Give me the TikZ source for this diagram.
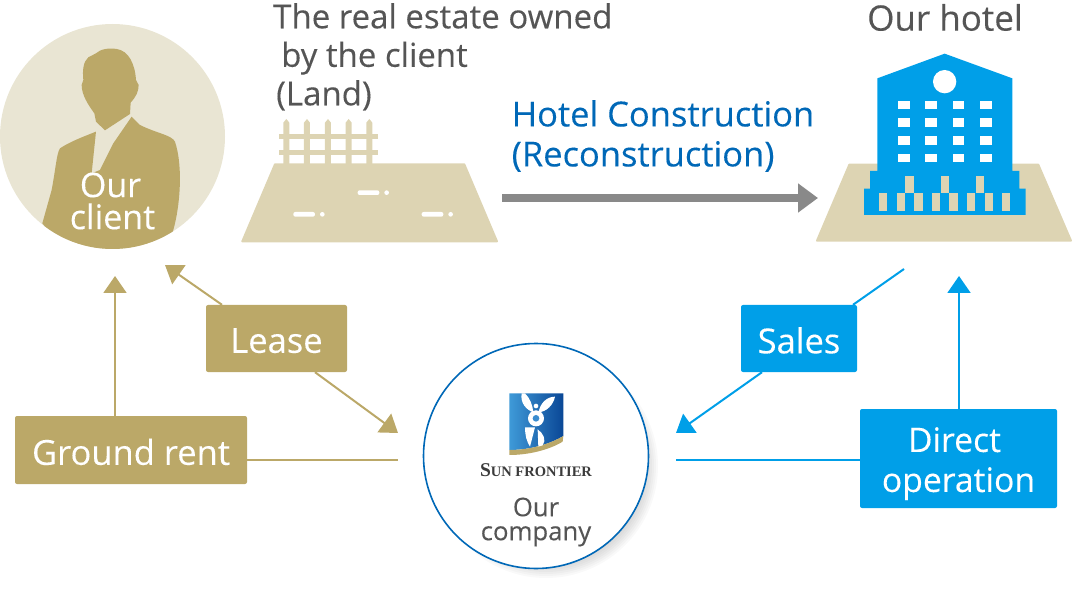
\documentclass[tikz,border=0pt]{standalone}
\usepackage{fontspec}
\setmainfont[FakeBold=0.2]{Open Sans}
\newfontfamily\logofont{Liberation Serif}
\usetikzlibrary{arrows.meta,calc}
\definecolor{goldc}{HTML}{BBA868}
\definecolor{palec}{HTML}{E9E5D3}
\definecolor{landc}{HTML}{DDD4B3}
\definecolor{bluec}{HTML}{009FE8}
\definecolor{navyc}{HTML}{0068B7}
\definecolor{inkc}{HTML}{555555}
\definecolor{arrowc}{HTML}{898989}
\definecolor{shieldl}{HTML}{3F9AD8}
\definecolor{shieldm}{HTML}{3A8CCF}
\definecolor{shieldr}{HTML}{0A4796}
\newcommand{\sz}[2]{\fontsize{#1}{#2}\selectfont}
\tikzset{
  goldbox/.style={fill=goldc,text=white,rounded corners=2pt,inner sep=0pt,align=center,font=\sz{34.5}{40}},
  bluebox/.style={fill=bluec,text=white,rounded corners=2pt,inner sep=0pt,align=center,font=\sz{34.5}{40}},
  goldline/.style={draw=goldc,line width=2pt},
  blueline/.style={draw=bluec,line width=2pt},
  tipped/.style={-{Triangle[length=17pt,width=23pt]}},
  land/.style={fill=landc,draw=landc,line width=2pt,line join=round},
  label/.style={inner sep=0pt,text=inkc,font=\sz{33}{38.5}},
}
\begin{document}
\begin{tikzpicture}[x=1pt,y=-1pt]
\useasboundingbox (0,0) rectangle (1072,596);
% client disc and figure
\fill[palec] (112.5,136.5) circle[radius=112.5];
\begin{scope}
  \clip (112.5,136.5) circle[radius=112.5];
  \begin{scope}[shift={(0,20)},x=0.3333pt,y=-0.3333pt]
    \fill[goldc] (288,100) .. controls (300,88) and (325,83) .. (350,87)
      .. controls (385,92) and (405,130) .. (408,180) -- (416,195) .. controls (416,215) and (408,230) .. (392,248)
      -- (390,282) -- (315,331) -- (288,305) -- (283,280) .. controls (265,255) and (245,225) .. (245,195)
      -- (250,180) .. controls (247,150) and (250,125) .. (265,112) -- cycle;
    \fill[goldc] (288,335) .. controls (250,350) and (210,365) .. (180,385) .. controls (170,400) and (168,440) .. (155,510)
      -- (127,610) -- (200,700) -- (500,700) -- (520,630) .. controls (540,560) and (550,440) .. (525,365)
      .. controls (515,345) and (470,340) .. (420,315) -- (395,290) -- (340,370) -- (300,450) -- (275,460) -- cycle;
  \end{scope}
\end{scope}
\node[text=white,inner sep=0pt,align=center,font=\sz{34}{32}] (clientlabel) at (112.5,201) {Our\hspace*{4pt}\\client};
% real estate
\begin{scope}[shift={(235,110)},x=0.3333pt,y=-0.3333pt]
  \foreach \px in {154,216,279,341,403}
    \fill[landc] (\px-9,165) -- (\px-9,38) -- (\px,27) -- (\px+9,38) -- (\px+9,165) -- cycle;
  \fill[landc] (132,72) rectangle (428,88);
  \fill[landc] (132,120) rectangle (428,135);
  \filldraw[land] (120,163) -- (688,163) -- (786,394) -- (22,394) -- cycle;
  \foreach \bx/\by in {368/248,175/313,560/313}{
    \fill[white,rounded corners=2pt] (\bx,\by-7) rectangle (\bx+65,\by+7);
    \fill[white] (\bx+87,\by) circle[radius=7];
  }
\end{scope}
\node[label,anchor=north west,align=left] (estate) at (273,3) {The real estate owned\\\hspace*{8pt}by the client\\\hspace*{3pt}(Land)};
% construction
\node[inner sep=0pt,anchor=north west,align=left,text=navyc,font=\sz{34.5}{40}] (construct) at (511.5,100) {Hotel Construction\\(Reconstruction)};
\coordinate (buildfrom) at (502,198);
\coordinate (buildto) at (818,198);
\draw[draw=arrowc,line width=8pt,-{Triangle[length=20pt,width=28pt]}] (buildfrom) -- (buildto);
% hotel
\node[inner sep=0pt,text=inkc,font=\sz{35}{38}] (hotellabel) at (945,17.5) {Our hotel};
\begin{scope}[shift={(810,40)},x=0.3333pt,y=-0.3333pt]
  \filldraw[land] (118,374) -- (685,374) -- (783,602) -- (21,602) -- cycle;
  \fill[bluec] (202,115) -- (404,41) -- (607,115) -- (607,393) -- (628,393) -- (628,446) -- (647,446) -- (647,525)
    -- (162,525) -- (162,446) -- (180,446) -- (180,393) -- (202,393) -- cycle;
  \fill[white] (404,125) circle[radius=35];
  \foreach \wx in {264,346,428,510}
    \foreach \wy in {183,235,289,341}
      \fill[white] (\wx,\wy) rectangle (\wx+35,\wy+25);
  \foreach \wx in {207,260,313,366,418,471,524,576}
    \fill[landc] (\wx,460) rectangle (\wx+25,512);
  \foreach \wx in {286,392,498}
    \fill[landc] (\wx,407) rectangle (\wx+25,460);
\end{scope}
% company shadow
\foreach \r in {112,110,108,106,104,102,100,98}
  \fill[black,opacity=0.022] (546,466) circle[radius=\r];
% connectors' boxes
\node[goldbox,minimum width=232pt,minimum height=68pt] (ground) at (131,450) {\rule{0pt}{30pt}Ground rent};
\node[goldbox,minimum width=141pt,minimum height=67pt] (lease) at (276.5,338.5) {\rule{0pt}{29pt}Lease};
\node[bluebox,minimum width=116pt,minimum height=67pt] (sales) at (799,338.5) {\rule{0pt}{30pt}Sales};
\node[bluebox,minimum width=197pt,minimum height=99pt,font=\sz{33.7}{40}] (direct) at (958.5,458.5) {\rule{0pt}{35pt}Direct\hspace*{8pt}\\operation};
% company
\node[circle,fill=white,draw=navyc,line width=1.6pt,minimum size=225pt,inner sep=0pt] (company) at (536,456) {};
\begin{scope}[shift={(410,370)},x=0.3333pt,y=-0.3333pt]
  \shade[left color=shieldl,middle color=shieldm,right color=shieldr] (298,70) -- (460,70) -- (460,198) .. controls (420,222) and (360,240) .. (298,240) -- cycle;
  \fill[goldc] (298,240) .. controls (360,240) and (420,222) .. (460,198) -- (458,215) .. controls (420,238) and (360,255) .. (298,255) -- cycle;
  \fill[white] (335,70) -- (345,70) .. controls (360,85) and (368,105) .. (370,127) .. controls (350,120) and (330,100) .. (335,70) -- cycle;
  \fill[white] (435,80) .. controls (430,105) and (410,125) .. (386,127) .. controls (390,100) and (410,80) .. (435,80) -- cycle;
  \fill[white] (378,108) circle[radius=7];
  \fill[white] (378,145) circle[radius=24];
  \fill[shieldm] (378,145) circle[radius=10];
  \fill[white] (345,172) -- (375,172) -- (360,230) .. controls (350,215) and (345,195) .. (345,172) -- cycle;
  \fill[white] (383,178) .. controls (400,190) and (410,210) .. (398,226) -- (385,230) -- cycle;
\end{scope}
\node[inner sep=0pt,text=inkc!70!black,font=\logofont\bfseries] (logotext) at (536,470) {\sz{19.5}{20}S\sz{14.5}{15}UN FRONTIER};
\node[inner sep=0pt,text=inkc,align=center,font=\sz{25.7}{24}] (companylabel) at (536,522) {Our\\company};
% free ends
\coordinate (groundup) at (115,276);
\coordinate (leaseup) at (165,265);
\coordinate (leasedown) at (398,433);
\coordinate (groundend) at (398,460);
\coordinate (salesup) at (904,269);
\coordinate (salesdown) at (676,433);
\coordinate (directend) at (676,460);
\coordinate (directup) at (959,276);
% connectors
\draw[goldline,tipped] (groundup |- ground.north) -- (groundup);
\draw[goldline] (ground.east |- groundend) -- (groundend);
\draw[goldline,tipped] ($(lease.north)+(-54.5,0)$) -- (leaseup);
\draw[goldline,tipped] ($(lease.south)+(38.5,0)$) -- (leasedown);
\draw[blueline] ($(sales.north)+(54,0)$) -- (salesup);
\draw[blueline,tipped] ($(sales.south)+(-37,0)$) -- (salesdown);
\draw[blueline] (direct.west |- directend) -- (directend);
\draw[blueline,tipped] (directup |- direct.north) -- (directup);
\end{tikzpicture}
\end{document}
